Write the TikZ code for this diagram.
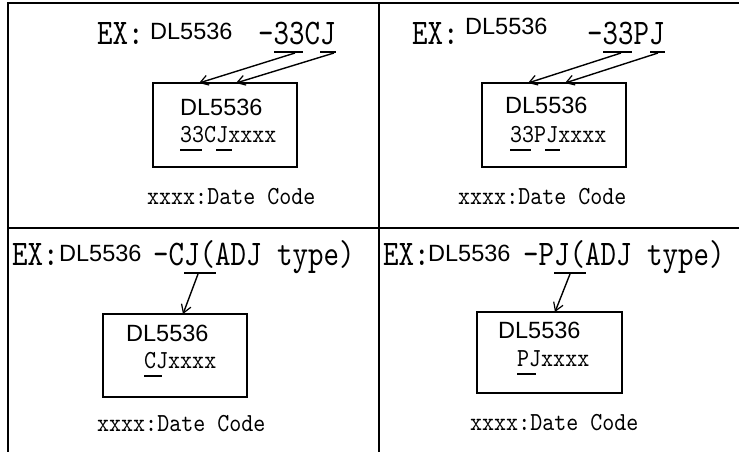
\documentclass[tikz,border=0pt]{standalone}
\usepackage{fontspec}
\usetikzlibrary{arrows.meta}
\newfontfamily\simA[FakeStretch=0.82,Extension=.otf]{lmmono10-regular}
\newfontfamily\simB[FakeStretch=0.88,Extension=.otf]{lmmono10-regular}
\newfontfamily\arialf{Liberation Sans}
\tikzset{
  bigtxt/.style={font=\simA\fontsize{36}{40}\selectfont, anchor=base west, inner sep=0pt},
  midtxt/.style={font=\simB\fontsize{26}{30}\selectfont, anchor=base west, inner sep=0pt},
  sanstxt/.style={font=\arialf\fontsize{23.5}{25}\selectfont, anchor=base west, inner sep=0pt},
  frameline/.style={line width=1.8pt},
  labelbox/.style={draw, line width=1.4pt},
  uline/.style={line width=1.8pt},
  pointer/.style={line width=1.4pt, -{Straight Barb[length=8pt,width=10pt,line width=1.2pt]}}
}
\begin{document}
\begin{tikzpicture}[x=1pt,y=-1pt]
\useasboundingbox (0,0) rectangle (739,452);
% frame
\draw[frameline] (8,452) -- (8,3) -- (739,3);
\draw[frameline] (379,3) -- (379,452);
\draw[frameline] (8,228) -- (739,228);

% ---------- panel 1 ----------
\node[bigtxt] (p1ex) at (97,45) {EX:};
\node[sanstxt] (p1dl) at (150,40) {DL5536};
\node[bigtxt] (p1code) at (258,45) {-33CJ};
\draw[uline] (274,52) -- (303,52);
\draw[uline] (320,52) -- (336,52);
\coordinate (p1s1) at (295,53);
\coordinate (p1s2) at (334,53);
\draw[labelbox] (153,83) rectangle (297,167);
\coordinate (p1t1) at (199,83);
\coordinate (p1t2) at (236,83);
\draw[pointer] (p1s1) -- (p1t1);
\draw[pointer] (p1s2) -- (p1t2);
\node[sanstxt] (p1bdl) at (180,115) {DL5536};
\node[midtxt] (p1bcode) at (180,142) {33CJxxxx};
\draw[uline] (180,150) -- (202,150);
\draw[uline] (216,150) -- (232,150);
\node[midtxt] (p1date) at (147,204) {xxxx:Date Code};

% ---------- panel 2 ----------
\node[bigtxt] (p2ex) at (412,45) {EX:};
\node[sanstxt] (p2dl) at (465,35) {DL5536};
\node[bigtxt] (p2code) at (587,45) {-33PJ};
\draw[uline] (603,52) -- (632,52);
\draw[uline] (650,52) -- (665,52);
\coordinate (p2s1) at (621,53);
\coordinate (p2s2) at (658,53);
\draw[labelbox] (482,83) rectangle (626,167);
\coordinate (p2t1) at (528,83);
\coordinate (p2t2) at (565,83);
\draw[pointer] (p2s1) -- (p2t1);
\draw[pointer] (p2s2) -- (p2t2);
\node[sanstxt] (p2bdl) at (505,113) {DL5536};
\node[midtxt] (p2bcode) at (510,142) {33PJxxxx};
\draw[uline] (510,150) -- (531,150);
\draw[uline] (545,150) -- (560,150);
\node[midtxt] (p2date) at (458,204) {xxxx:Date Code};

% ---------- panel 3 ----------
\node[bigtxt] (p3ex) at (12,265) {EX:};
\node[sanstxt] (p3dl) at (59,261) {DL5536};
\node[bigtxt] (p3code) at (153,265) {-CJ(ADJ type)};
\draw[uline] (184,273) -- (216,273);
\coordinate (p3s) at (198,274);
\draw[labelbox] (103,314) rectangle (247,397);
\coordinate (p3t) at (183,314);
\draw[pointer] (p3s) -- (p3t);
\node[sanstxt] (p3bdl) at (126,341) {DL5536};
\node[midtxt] (p3bcode) at (144,368) {CJxxxx};
\draw[uline] (144,376) -- (162,376);
\node[midtxt] (p3date) at (97,431) {xxxx:Date Code};

% ---------- panel 4 ----------
\node[bigtxt] (p4ex) at (383,265) {EX:};
\node[sanstxt] (p4dl) at (428,261) {DL5536};
\node[bigtxt] (p4code) at (523,265) {-PJ(ADJ type)};
\draw[uline] (554,273) -- (586,273);
\coordinate (p4s) at (570,274);
\draw[labelbox] (477,312) rectangle (622,393);
\coordinate (p4t) at (555,312);
\draw[pointer] (p4s) -- (p4t);
\node[sanstxt] (p4bdl) at (498,338) {DL5536};
\node[midtxt] (p4bcode) at (517,366) {PJxxxx};
\draw[uline] (517,374) -- (536,374);
\node[midtxt] (p4date) at (470,430) {xxxx:Date Code};
\end{tikzpicture}
\end{document}
